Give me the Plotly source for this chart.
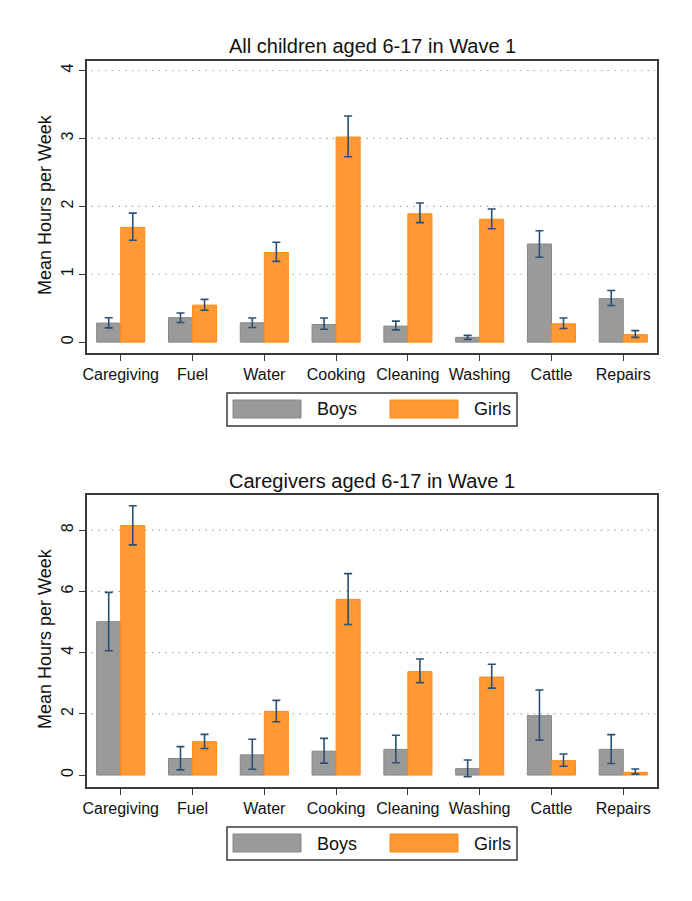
import plotly.graph_objects as go

W, H = 692, 901

categories = ["Caregiving", "Fuel", "Water", "Cooking", "Cleaning", "Washing", "Cattle", "Repairs"]

# Panel 1: All children aged 6-17 in Wave 1
p1_boys = [0.28, 0.36, 0.285, 0.26, 0.236, 0.07, 1.445, 0.64]
p1_boys_hi = [0.36, 0.43, 0.355, 0.355, 0.31, 0.10, 1.64, 0.76]
p1_boys_lo = [0.21, 0.29, 0.215, 0.19, 0.18, 0.04, 1.25, 0.54]
p1_girls = [1.69, 0.545, 1.32, 3.02, 1.89, 1.81, 0.27, 0.11]
p1_girls_hi = [1.90, 0.63, 1.47, 3.33, 2.05, 1.96, 0.355, 0.17]
p1_girls_lo = [1.50, 0.47, 1.19, 2.73, 1.76, 1.67, 0.20, 0.07]

# Panel 2: Caregivers aged 6-17 in Wave 1
p2_boys = [5.01, 0.54, 0.66, 0.78, 0.84, 0.21, 1.94, 0.84]
p2_boys_hi = [5.97, 0.93, 1.17, 1.20, 1.30, 0.49, 2.78, 1.32]
p2_boys_lo = [4.06, 0.17, 0.19, 0.39, 0.40, -0.05, 1.14, 0.38]
p2_girls = [8.15, 1.09, 2.08, 5.74, 3.38, 3.20, 0.47, 0.09]
p2_girls_hi = [8.80, 1.33, 2.44, 6.58, 3.79, 3.62, 0.69, 0.20]
p2_girls_lo = [7.52, 0.87, 1.74, 4.92, 3.02, 2.84, 0.29, 0.03]

titles = ["All children aged 6-17 in Wave 1", "Caregivers aged 6-17 in Wave 1"]
series_names = ["Boys", "Girls"]
p1_ticks = [0, 1, 2, 3, 4]
p2_ticks = [0, 2, 4, 6, 8]

BOYS_FILL, BOYS_LINE = "#9a9a9a", "#878787"
GIRLS_FILL, GIRLS_LINE = "#ff9933", "#ff8a14"
ERR_COLOR = "#2c5073"
FONT = "Liberation Sans, Arial, sans-serif"


def px_x(x):
    return x / W


def px_y(y):
    return 1 - y / H


fig = go.Figure()


def add_pair(xa, ya, boys, bhi, blo, girls, ghi, glo):
    for name, vals, hi, lo, fill, line in [
        (series_names[0], boys, bhi, blo, BOYS_FILL, BOYS_LINE),
        (series_names[1], girls, ghi, glo, GIRLS_FILL, GIRLS_LINE),
    ]:
        fig.add_trace(go.Bar(
            x=categories, y=vals, name=name, xaxis=xa, yaxis=ya, showlegend=False,
            marker=dict(color=fill, line=dict(color=line, width=1)),
            error_y=dict(type="data", symmetric=False,
                         array=[h - v for h, v in zip(hi, vals)],
                         arrayminus=[v - l for v, l in zip(vals, lo)],
                         color=ERR_COLOR, thickness=1.6, width=4),
        ))


add_pair("x", "y", p1_boys, p1_boys_hi, p1_boys_lo, p1_girls, p1_girls_hi, p1_girls_lo)
add_pair("x2", "y2", p2_boys, p2_boys_hi, p2_boys_lo, p2_girls, p2_girls_hi, p2_girls_lo)

xdom = [px_x(87), px_x(657)]
dom1 = [px_y(353), px_y(61)]
dom2 = [px_y(787), px_y(495)]

xcommon = dict(domain=xdom, range=[-0.47, 7.47], showgrid=False, zeroline=False,
               showline=True, mirror=True, linecolor="#3a3a3a", linewidth=1.5,
               ticks="outside", ticklen=6, tickcolor="#3a3a3a", tickwidth=1,
               tickfont=dict(family=FONT, size=16, color="#111"), automargin=False)
ycommon = dict(showgrid=False, zeroline=False, showline=True, mirror=True,
               linecolor="#3a3a3a", linewidth=1.5, ticks="outside", ticklen=6,
               tickcolor="#3a3a3a", tickwidth=1, tickangle=-90,
               tickfont=dict(family=FONT, size=16, color="#111"), automargin=False)

fig.update_layout(
    width=W, height=H, margin=dict(l=0, r=0, t=0, b=0),
    paper_bgcolor="white", plot_bgcolor="white",
    barmode="group", bargap=0.33, bargroupgap=0,
    xaxis=dict(anchor="y", **xcommon),
    yaxis=dict(domain=dom1, range=[-0.16, 4.14], tickvals=p1_ticks, anchor="x", **ycommon),
    xaxis2=dict(anchor="y2", **xcommon),
    yaxis2=dict(domain=dom2, range=[-0.39, 9.15], tickvals=p2_ticks, anchor="x2", **ycommon),
    font=dict(family=FONT, color="#111"),
)

shapes = []
annotations = []

# dotted gridlines (not at zero)
for yref, ticks in [("y", p1_ticks), ("y2", p2_ticks)]:
    xr = "x domain" if yref == "y" else "x2 domain"
    for t in ticks:
        if t == 0:
            continue
        shapes.append(dict(type="line", xref=xr, yref=yref, x0=0.008, x1=0.997, y0=t, y1=t,
                           line=dict(color="#a8a8a8", width=1.2, dash="1.5px,5.2px"), layer="below"))

# titles and y-axis titles
for i, (title_y, frame_top, frame_bot) in enumerate([(45.5, 61, 353), (480.5, 495, 787)]):
    annotations.append(dict(text=titles[i], xref="paper", yref="paper",
                            x=px_x(372), y=px_y(title_y), showarrow=False,
                            xanchor="center", yanchor="middle",
                            font=dict(family=FONT, size=20, color="#111")))
    annotations.append(dict(text="Mean Hours per Week", xref="paper", yref="paper",
                            x=px_x(45), y=px_y((frame_top + frame_bot) / 2 - 2), showarrow=False,
                            textangle=-90, xanchor="center", yanchor="middle",
                            font=dict(family=FONT, size=18, color="#111")))

# custom legends (wide swatches)
for off in [0, 434]:
    shapes.append(dict(type="rect", xref="paper", yref="paper",
                       x0=px_x(227), x1=px_x(517), y0=px_y(393 + off), y1=px_y(426 + off),
                       line=dict(color="#3a3a3a", width=1.5), fillcolor="white"))
    for name, sx, tx, fill, line in [(series_names[0], 233, 316, BOYS_FILL, BOYS_LINE),
                                     (series_names[1], 390, 473, GIRLS_FILL, GIRLS_LINE)]:
        shapes.append(dict(type="rect", xref="paper", yref="paper",
                           x0=px_x(sx), x1=px_x(sx + 68), y0=px_y(400 + off), y1=px_y(418 + off),
                           line=dict(color=line, width=1), fillcolor=fill))
        annotations.append(dict(text=name, xref="paper", yref="paper",
                                x=px_x(tx - 1), y=px_y(409.5 + off), showarrow=False,
                                xanchor="left", yanchor="middle",
                                font=dict(family=FONT, size=18, color="#111")))

fig.update_layout(shapes=shapes, annotations=annotations)

fig.write_html("out.html")
